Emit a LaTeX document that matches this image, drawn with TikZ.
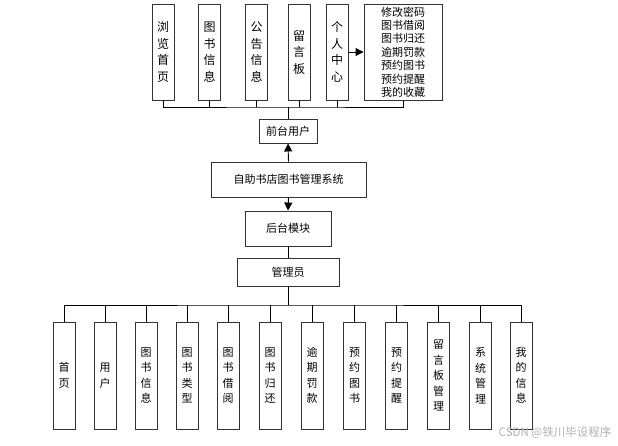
\documentclass[tikz,border=0pt]{standalone}
\usepackage{fontspec}
\setmainfont{Noto Sans CJK SC}
\usetikzlibrary{arrows.meta}

\tikzset{
  box/.style={draw=black!80, line width=0.9pt, fill=white, inner sep=0pt, align=center,
    font=\fontsize{11}{13.4}\selectfont},
  topcol/.style={box, minimum width=22pt, minimum height=96pt, font=\fontsize{12}{16.5}\selectfont},
  botcol/.style={box, minimum width=22pt, minimum height=107pt, font=\fontsize{11}{15.5}\selectfont},
  link/.style={line width=0.9pt},
  arrow/.style={link, -{Triangle[length=8pt,width=8pt]}}
}

\begin{document}
\begin{tikzpicture}[x=1pt, y=-1pt]
  \useasboundingbox (0,0) rectangle (618,445);

  % Front-end modules
  \node[topcol] (browse) at (163,52) {浏\\览\\首\\页};
  \node[topcol] (topbook) at (209.5,52) {图\\书\\信\\息};
  \node[topcol] (notice) at (256.5,52) {公\\告\\信\\息};
  \node[topcol] (board) at (299,52) {留\\言\\板};
  \node[topcol] (personal) at (337,52) {个\\人\\中\\心};
  \node[box, minimum width=78pt, minimum height=96pt] (personallist) at (403,52)
    {修改密码\\图书借阅\\图书归还\\逾期罚款\\预约图书\\预约提醒\\我的收藏};
  \draw[arrow] (personal.east) -- (personallist.west);

  % Main chain
  \node[box, minimum width=58pt, minimum height=24pt] (front) at (288,131) {前台用户};
  \node[box, minimum width=155pt, minimum height=35pt] (system) at (288.5,179.5) {自助书店图书管理系统};
  \node[box, minimum width=86pt, minimum height=35pt] (backend) at (288,228.5) {后台模块};
  \node[box, minimum width=102pt, minimum height=28pt] (admin) at (288,272) {管理员};

  % Front bus
  \coordinate (frontbus) at (288,107);
  \draw[link] (browse.south) |- (frontbus) -| (personallist.south);
  \foreach \n in {topbook, notice, board, personal}
    \draw[link] (\n.south) -- (\n.south |- frontbus);
  \draw[link] (frontbus) -- (front.north);

  \draw[arrow] (system.north) -- (front.south);
  \draw[arrow] (system.south) -- (backend.north);
  \draw[link] (backend.south) -- (admin.north);

  % Admin modules
  \node[botcol] (home) at (64,375.5) {首\\页};
  \node[botcol] (user) at (105,375.5) {用\\户};
  \node[botcol] (bookinfo) at (146,375.5) {图\\书\\信\\息};
  \node[botcol] (booktype) at (187,375.5) {图\\书\\类\\型};
  \node[botcol] (borrow) at (228,375.5) {图\\书\\借\\阅};
  \node[botcol] (giveback) at (270,375.5) {图\\书\\归\\还};
  \node[botcol] (overdue) at (312,375.5) {逾\\期\\罚\\款};
  \node[botcol] (reserve) at (354.5,375.5) {预\\约\\图\\书};
  \node[botcol] (remind) at (396.5,375.5) {预\\约\\提\\醒};
  \node[botcol] (msgadmin) at (438.5,375.5) {留\\言\\板\\管\\理};
  \node[botcol] (sysadmin) at (480.5,375.5) {系\\统\\管\\理};
  \node[botcol] (myinfo) at (521,375.5) {我\\的\\信\\息};

  % Admin bus
  \coordinate (adminbus) at (288,305);
  \draw[link] (admin.south) -- (adminbus);
  \draw[link] (home.north) |- (adminbus) -| (myinfo.north);
  \foreach \n in {user, bookinfo, booktype, borrow, giveback, overdue, reserve, remind, msgadmin, sysadmin}
    \draw[link] (\n.north) -- (\n.north |- adminbus);

  % Watermark
  \node[text=black!30, font=\fontsize{11.5}{13}\selectfont] (watermark) at (555,433) {CSDN @铁川毕设程序};
\end{tikzpicture}
\end{document}
